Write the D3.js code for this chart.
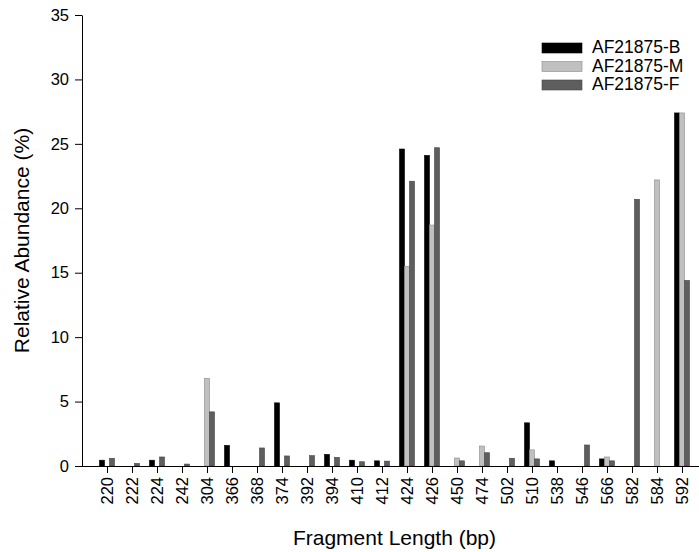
<!DOCTYPE html>
<html>
<head>
<meta charset="utf-8">
<script src="https://cdn.jsdelivr.net/npm/d3@7"></script>
<style>
  body { margin: 0; background: #fff; }
  text { font-family: "Liberation Sans", Arial, sans-serif; fill: #000; }
</style>
</head>
<body>
<div id="chart"></div>
<script>
// Data
const fragments = ["220","222","224","242","304","366","368","374","392","394","410","412",
                   "424","426","450","474","502","510","538","546","566","582","584","592"];
const seriesNames = ["AF21875-B", "AF21875-M", "AF21875-F"];
const valuesB = [0.45,0,0.45,0,0,1.6,0,4.9,0,0.9,0.45,0.4,24.6,24.1,0,0,0,3.35,0.4,0,0.55,0,0,27.4];
const valuesM = [0,0,0,0,6.8,0,0,0,0,0,0,0,15.5,18.7,0.62,1.55,0,1.25,0,0,0.7,0,22.2,27.4];
const valuesF = [0.6,0.2,0.7,0.15,4.2,0,1.4,0.78,0.8,0.67,0.33,0.38,22.1,24.7,0.4,1.03,0.6,0.55,0,1.63,0.4,20.7,0,14.4];
const yTicks = [0, 5, 10, 15, 20, 25, 30, 35];

const colors = ["#000000", "#c0c0c0", "#5e5e5e"];
const strokes = ["#000000", "#8a8a8a", "#444444"];

const W = 699, H = 552;
const plot = {left: 82, right: 707, top: 15, bottom: 466};

const svg = d3.select("#chart").append("svg")
  .attr("width", W)
  .attr("height", H);

const x = d3.scalePoint()
  .domain(fragments)
  .range([plot.left, plot.right])
  .padding(1);

const y = d3.scaleLinear()
  .domain([0, 35])
  .range([plot.bottom, plot.top]);

const sub = d3.scaleBand()
  .domain(seriesNames)
  .range([-7.5, 7.5]);

const allSeries = [valuesB, valuesM, valuesF];

// bars
allSeries.forEach((vals, si) => {
  svg.append("g")
    .selectAll("rect")
    .data(fragments.map((f, i) => ({f: f, v: vals[i]})).filter(d => d.v > 0))
    .enter()
    .append("rect")
    .attr("x", d => x(d.f) + sub(seriesNames[si]))
    .attr("y", d => y(d.v))
    .attr("width", sub.bandwidth())
    .attr("height", d => y(0) - y(d.v))
    .attr("fill", colors[si])
    .attr("stroke", strokes[si])
    .attr("stroke-width", 0.6);
});

// y axis
const yAxis = svg.append("g")
  .attr("transform", `translate(${plot.left},0)`)
  .call(d3.axisLeft(y).tickValues(yTicks).tickSize(7).tickPadding(6).tickSizeOuter(0));
yAxis.select(".domain").attr("stroke", "#000");
yAxis.selectAll("text").style("font-size", "16.5px");

// x axis
const xAxis = svg.append("g")
  .attr("transform", `translate(0,${plot.bottom})`)
  .call(d3.axisBottom(x).tickSize(7).tickSizeOuter(0));
xAxis.select(".domain").attr("d", `M${plot.left},0.5H${W}`).attr("stroke", "#000");
xAxis.selectAll("text")
  .style("font-size", "16.5px")
  .attr("transform", "rotate(-90)")
  .attr("text-anchor", "end")
  .attr("x", -11)
  .attr("y", 0)
  .attr("dy", "0.35em");

// axis titles
svg.append("text")
  .attr("x", (plot.left + plot.right) / 2)
  .attr("y", 545)
  .attr("text-anchor", "middle")
  .style("font-size", "21px")
  .text("Fragment Length (bp)");

svg.append("text")
  .attr("transform", "rotate(-90)")
  .attr("x", -(plot.top + plot.bottom) / 2)
  .attr("y", 29)
  .attr("text-anchor", "middle")
  .style("font-size", "21px")
  .text("Relative Abundance (%)");

// legend
const legend = svg.append("g").attr("transform", "translate(542,43)");
seriesNames.forEach((name, i) => {
  const row = legend.append("g").attr("transform", `translate(0,${i * 18.5})`);
  row.append("rect")
    .attr("width", 40)
    .attr("height", 10)
    .attr("fill", colors[i])
    .attr("stroke", strokes[i])
    .attr("stroke-width", 0.6);
  row.append("text")
    .attr("x", 50)
    .attr("y", 10)
    .style("font-size", "17.5px")
    .text(name);
});
</script>
</body>
</html>
